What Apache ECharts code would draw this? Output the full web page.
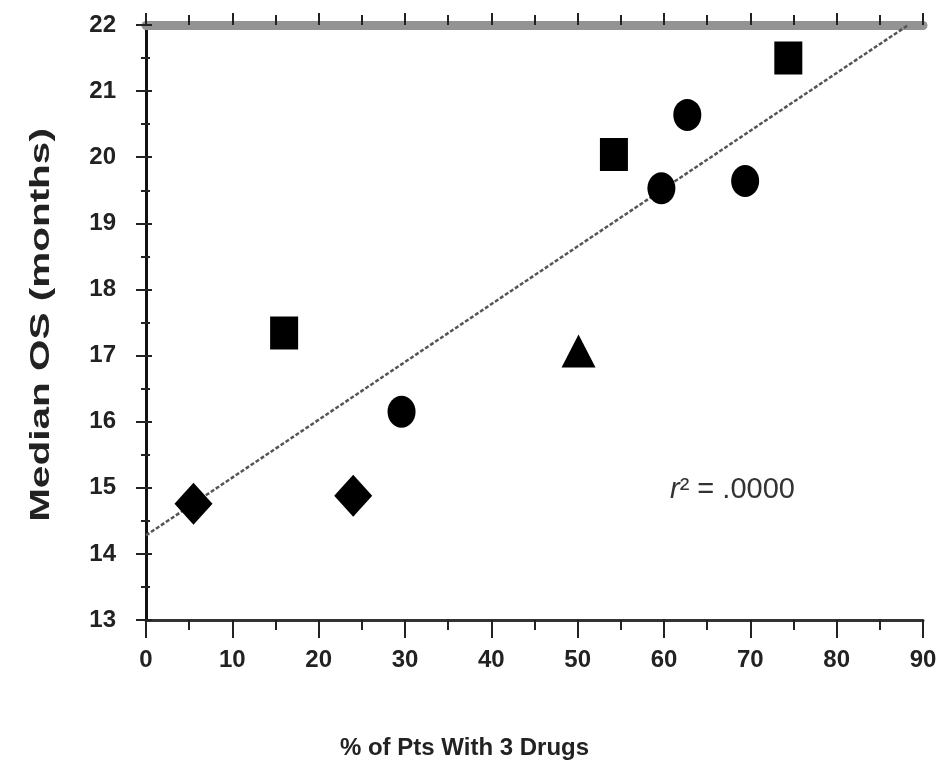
<!DOCTYPE html>
<html>
<head>
<meta charset="utf-8">
<script src="https://cdn.jsdelivr.net/npm/echarts@6/dist/echarts.min.js"></script>
<style>html,body{margin:0;padding:0;background:#fff}#c{width:945px;height:766px}</style>
</head>
<body>
<div id="c"></div>
<script>
// Data
var diamondX = [5.5, 24.0];
var diamondY = [14.76, 14.88];
var squareX = [16.0, 54.2, 74.4];
var squareY = [17.34, 20.04, 21.5];
var circleX = [29.6, 59.7, 62.7, 69.4];
var circleY = [16.15, 19.53, 20.64, 19.64];
var triangleX = [50.1];
var triangleY = [17.07];
var fitX = [0, 88.3];
var fitY = [14.28, 22.0];
var xTicks = [0, 10, 20, 30, 40, 50, 60, 70, 80, 90];
var yTicks = [13, 14, 15, 16, 17, 18, 19, 20, 21, 22];
var xTitle = '% of Pts With 3 Drugs';
var yTitle = 'Median OS (months)';
var fitLabel = '{i|r}² = .0000';

function pairs(xs, ys) { return xs.map(function (x, i) { return [x, ys[i]]; }); }

var ellipse = 'path://M0,1A1,1,0,1,1,2,1A1,1,0,1,1,0,1Z';
var font = 'Liberation Sans, Arial, sans-serif';

var chart = echarts.init(document.getElementById('c'), null, {renderer: 'canvas'});
chart.setOption({
  animation: false,
  backgroundColor: '#fff',
  grid: {left: 146, right: 22, top: 25, bottom: 146, containLabel: false},
  xAxis: [{
    type: 'value', position: 'bottom', min: xTicks[0], max: xTicks[xTicks.length - 1], interval: 10,
    name: xTitle, nameLocation: 'middle', nameGap: 116,
    nameTextStyle: {fontFamily: font, fontSize: 24, fontWeight: 'bold', color: '#222', padding: [0, 140, 0, 0]},
    axisLine: {lineStyle: {color: '#333', width: 3}},
    axisTick: {show: true, inside: false, length: 18, lineStyle: {color: '#222', width: 2}},
    minorTick: {show: true, splitNumber: 2, length: 10, lineStyle: {color: '#222', width: 2}},
    axisLabel: {margin: 28, fontFamily: font, fontSize: 24, color: '#222', fontWeight: 'bold'},
    splitLine: {show: false}
  }, {
    type: 'value', position: 'top', min: xTicks[0], max: xTicks[xTicks.length - 1], interval: 10,
    axisLine: {lineStyle: {color: '#939393', width: 9}},
    axisTick: {show: true, inside: false, length: 12, lineStyle: {color: '#222', width: 2}},
    minorTick: {show: true, splitNumber: 2, length: 10, lineStyle: {color: '#222', width: 2}},
    axisLabel: {show: false},
    splitLine: {show: false}
  }],
  yAxis: [{
    type: 'value', position: 'left', min: yTicks[0], max: yTicks[yTicks.length - 1], interval: 1,
    axisLine: {show: true, lineStyle: {color: '#111', width: 3}},
    axisTick: {show: true, inside: false, length: 10, lineStyle: {color: '#222', width: 2}},
    minorTick: {show: true, splitNumber: 2, length: 5, lineStyle: {color: '#222', width: 2}},
    axisLabel: {margin: 30, fontFamily: font, fontSize: 24, color: '#222', fontWeight: 'bold'},
    splitLine: {show: false}
  }, {
    type: 'value', position: 'right', min: yTicks[0], max: yTicks[yTicks.length - 1], interval: 1,
    axisLine: {show: true, lineStyle: {color: '#111', width: 3}},
    axisTick: {show: true, inside: false, length: 6, lineStyle: {color: '#222', width: 2}},
    minorTick: {show: true, splitNumber: 2, length: 4, lineStyle: {color: '#222', width: 2}},
    axisLabel: {show: false},
    splitLine: {show: false}
  }],
  series: [{
    type: 'line', data: pairs(fitX, fitY), symbol: 'none', z: 1,
    lineStyle: {color: '#555', width: 2.5, type: [4, 2]}
  }, {
    type: 'scatter', data: pairs(diamondX, diamondY), symbol: 'diamond', symbolSize: [38, 42],
    itemStyle: {color: '#000', opacity: 1}, z: 3
  }, {
    type: 'scatter', data: pairs(squareX, squareY), symbol: 'rect', symbolSize: [28, 33],
    itemStyle: {color: '#000', opacity: 1}, z: 3
  }, {
    type: 'scatter', data: pairs(circleX, circleY), symbol: ellipse, symbolSize: [28, 32],
    itemStyle: {color: '#000', opacity: 1}, z: 3
  }, {
    type: 'scatter', data: pairs(triangleX, triangleY), symbol: 'triangle', symbolSize: [34, 33],
    itemStyle: {color: '#000', opacity: 1}, z: 3
  }],
  graphic: [{
    type: 'text', x: 42, y: 325, rotation: Math.PI / 2, scaleX: 1.5, scaleY: 1, z: 10,
    style: {
      text: yTitle, fontFamily: font, fontSize: 27, fontWeight: 'bold', fill: '#222',
      align: 'center', verticalAlign: 'middle'
    }
  }, {
    type: 'text', left: 670, top: 475, z: 10,
    style: {
      text: fitLabel,
      rich: {i: {fontStyle: 'italic', fontFamily: font, fontSize: 29, fill: '#333'}},
      fontFamily: font, fontSize: 29, fill: '#333'
    }
  }]
});
</script>
</body>
</html>
